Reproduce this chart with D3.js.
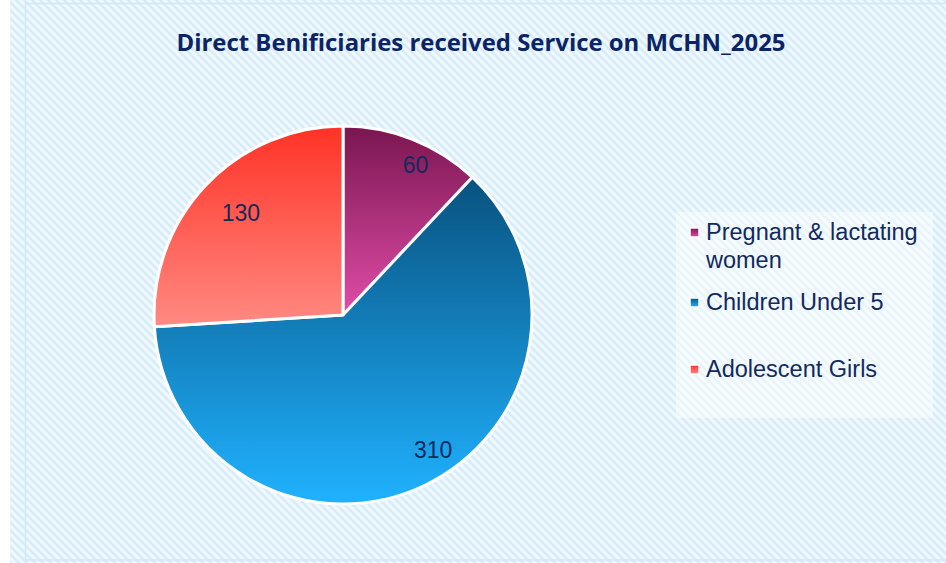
<!DOCTYPE html>
<html>
<head>
<meta charset="utf-8">
<script src="https://cdn.jsdelivr.net/npm/d3@7"></script>
<style>
  html, body { margin: 0; padding: 0; background: #fff; }
  svg { display: block; }
</style>
</head>
<body>
<svg id="chart" width="946" height="563"></svg>
<script>
// Pie chart: beneficiaries of MCHN services in 2025, with legend to the right.

const categories = ["Pregnant & lactating women", "Children Under 5", "Adolescent Girls"];
const legendLines = [["Pregnant & lactating", "women"], ["Children Under 5"], ["Adolescent Girls"]];
const values = [60, 310, 130];
const title = "Direct Benificiaries received Service on MCHN_2025";

// top / bottom colour of each slice gradient
const gradTop = ["#7a1650", "#08527f", "#ff3226"];
const gradBottom = ["#e04da8", "#20b2ff", "#ff8a82"];

const svg = d3.select("#chart");
const defs = svg.append("defs");

// woven hatch background
const pat = defs.append("pattern")
  .attr("id", "hatch")
  .attr("patternUnits", "userSpaceOnUse")
  .attr("width", 8)
  .attr("height", 8);
pat.append("rect").attr("width", 8).attr("height", 8).attr("fill", "#eaf6fd");
pat.append("path")
  .attr("d", "M-2,6 L2,10 M0,0 L8,8 M6,-2 L10,2")
  .attr("stroke", "#d5ecf9")
  .attr("stroke-width", 2.2);
pat.append("path")
  .attr("d", "M0,4 L4,8 M4,0 L8,4")
  .attr("stroke", "#f7fbfe")
  .attr("stroke-width", 1.2);

categories.forEach((c, i) => {
  const g = defs.append("linearGradient")
    .attr("id", `grad${i}`)
    .attr("x1", 0).attr("y1", 0)
    .attr("x2", 0).attr("y2", 1);
  g.append("stop").attr("offset", "0%").attr("stop-color", gradTop[i]);
  g.append("stop").attr("offset", "100%").attr("stop-color", gradBottom[i]);
});

svg.append("rect")
  .attr("x", 10).attr("y", 0)
  .attr("width", 936).attr("height", 563)
  .attr("fill", "url(#hatch)");

svg.append("rect")
  .attr("x", 25.5).attr("y", 3.5)
  .attr("width", 930).attr("height", 556.5)
  .attr("fill", "none")
  .attr("stroke", "#cfe9f8")
  .attr("stroke-width", 1.5);

svg.append("text")
  .attr("x", 481)
  .attr("y", 51)
  .attr("text-anchor", "middle")
  .attr("font-family", "'Open Sans', 'Noto Sans', sans-serif")
  .attr("font-weight", "bold")
  .attr("font-size", 24)
  .attr("textLength", 609)
  .attr("lengthAdjust", "spacingAndGlyphs")
  .attr("fill", "#0b2466")
  .text(title);

// pie
const cx = 343, cy = 315, radius = 189;
const pie = d3.pie().sort(null).value((d) => d)(values);
const arc = d3.arc().innerRadius(0).outerRadius(radius);

const pieG = svg.append("g").attr("transform", `translate(${cx},${cy})`);

pieG.selectAll(".slice")
  .data(pie)
  .join("path")
  .attr("class", "slice")
  .attr("d", arc)
  .attr("fill", (d, i) => `url(#grad${i})`)
  .attr("stroke", "#fff")
  .attr("stroke-width", 3)
  .attr("stroke-linejoin", "round");

// excel "best fit" label placement, approximated per slice
const labelRadius = [0.87, 0.86, 0.77];
const labelOffsets = [[12, 3], [21, -12], [4, -3]];
pieG.selectAll(".value")
  .data(pie)
  .join("text")
  .attr("class", "value")
  .attr("transform", (d, i) => {
    const r = radius * labelRadius[i];
    const [x, y] = d3.arc().innerRadius(r).outerRadius(r).centroid(d);
    return `translate(${x + labelOffsets[i][0]},${y + labelOffsets[i][1]})`;
  })
  .attr("text-anchor", "middle")
  .attr("dy", "0.36em")
  .attr("font-family", "'Liberation Sans', Arial, sans-serif")
  .attr("font-size", 23)
  .attr("fill", "#112a5e")
  .text((d) => d.data);

// legend
const legend = svg.append("g");
legend.append("rect")
  .attr("x", 676).attr("y", 212)
  .attr("width", 257).attr("height", 206)
  .attr("fill", "#ffffff")
  .attr("opacity", 0.45);

const legendY = [240, 310, 377];
const items = legend.selectAll(".item")
  .data(categories)
  .join("g")
  .attr("class", "item")
  .attr("transform", (d, i) => `translate(706,${legendY[i]})`);

items.append("rect")
  .attr("x", -16).attr("y", -12)
  .attr("width", 9).attr("height", 9)
  .attr("fill", (d, i) => `url(#grad${i})`)
  .attr("stroke", "#fff")
  .attr("stroke-width", 1.5);

items.each(function (d, i) {
  const t = d3.select(this).append("text")
    .attr("font-family", "'Liberation Sans', Arial, sans-serif")
    .attr("font-size", 23.5)
    .attr("fill", "#112a5e");
  legendLines[i].forEach((line, j) => {
    t.append("tspan").attr("x", 0).attr("y", j * 28).text(line);
  });
});
</script>
</body>
</html>
